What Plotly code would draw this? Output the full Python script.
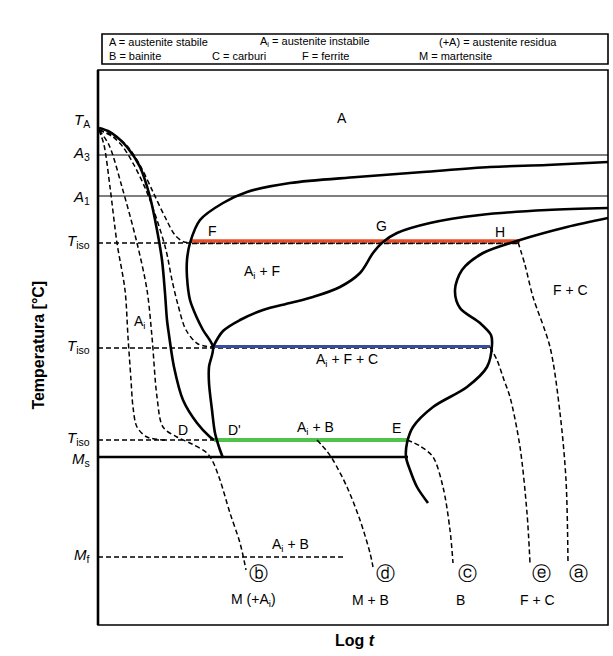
import plotly.graph_objects as go

# ---- data (x = log t, arbitrary units; T = temperature, arbitrary units) ----
T_A, T_A3, T_A1 = 497, 470, 429
T_ISO1, T_ISO2, T_ISO3 = 383, 278, 185
T_MS, T_MF = 168, 68
X_MAX, T_MAX = 510, 555

# thick transformation curves
fs_x = [510, 449, 392, 325, 259, 192, 149, 125, 102, 92, 89, 89, 92, 99, 105, 115, 111, 111, 114, 117, 121, 125]
fs_t = [463, 460, 458, 453, 448, 442, 433, 422, 405, 382, 365, 348, 325, 307, 295, 278, 258, 242, 215, 192, 178, 167]
g_x = [115, 125, 142, 165, 192, 215, 242, 262, 275, 285, 299, 332, 382, 449, 510]
g_t = [278, 294, 305, 315, 322, 328, 338, 352, 372, 383, 392, 402, 410, 415, 417]
h_x = [510, 469, 422, 385, 364, 357, 362, 382, 393, 394, 389, 369, 335, 315, 309, 308, 312, 319, 330]
h_t = [407, 398, 385, 372, 355, 335, 317, 302, 290, 280, 258, 238, 218, 198, 182, 168, 155, 138, 122]
d_x = [1, 10, 19, 29, 42, 52, 59, 64, 67, 69, 71, 76, 85, 99, 112, 116]
d_t = [497, 494, 488, 478, 458, 428, 395, 365, 332, 305, 290, 258, 225, 202, 188, 185]

# dashed cooling paths
iso3_x = [1, 6, 12, 19, 27, 30, 33, 35, 39, 49, 67]
iso3_t = [495, 480, 438, 382, 335, 288, 245, 218, 198, 188, 185]
b_x = [1, 11, 24, 39, 49, 54, 59, 65, 79, 94, 109, 115, 122, 132, 142, 148]
b_t = [495, 480, 438, 382, 335, 288, 228, 198, 188, 181, 172, 163, 145, 112, 82, 55]
e1_x = [1, 15, 25, 36, 48, 59, 68, 74, 80, 88, 100, 115]
e1_t = [495, 488, 478, 460, 435, 405, 375, 345, 320, 295, 281, 278]
e2_x = [392, 399, 406, 412, 422, 429, 432]
e2_t = [278, 265, 245, 228, 178, 112, 62]
a1_x = [1, 18, 30, 43, 55, 67, 77, 86, 94]
a1_t = [495, 488, 478, 458, 433, 408, 390, 383, 383]
a2_x = [420, 427, 435, 452, 462, 468, 470]
a2_t = [383, 360, 328, 278, 212, 145, 62]
c_x = [309, 322, 335, 345, 352, 355]
c_t = [185, 179, 168, 138, 95, 62]
dd_x = [219, 228, 235, 249, 262, 272, 275]
dd_t = [185, 175, 165, 138, 105, 72, 58]

# isothermal holds
red_x, blue_x, green_x = [94, 422], [115, 392], [116, 309]
ms_x, mf_x = [0, 310], [0, 247]

# region labels
reg_text = ["A", "A<sub>i</sub> + F", "F", "G", "H", "F + C", "A<sub>i</sub> + F + C", "A<sub>i</sub>",
            "D", "D'", "A<sub>i</sub> + B", "E", "A<sub>i</sub> + B",
            "M (+A<sub>i</sub>)", "M + B", "B", "F + C"]
reg_x = [244, 164, 114, 283, 402, 472, 249, 42, 85, 136, 217, 298, 192, 155, 272, 362, 439]
reg_t = [507, 353, 394, 399, 393, 335, 265, 303, 195, 195, 197, 197, 80, 25, 25, 25, 25]
circ_text = ["ⓑ", "ⓓ", "ⓒ", "ⓔ", "ⓐ"]
circ_x = [160, 287, 369, 443, 480]
circ_t = [52, 52, 52, 52, 52]

# axis level labels
lvl_text = ["<i>T</i><sub>A</sub>", "<i>A</i><sub>3</sub>", "<i>A</i><sub>1</sub>", "<i>T</i><sub>iso</sub>",
            "<i>T</i><sub>iso</sub>", "<i>T</i><sub>iso</sub>", "<i>M</i><sub>s</sub>", "<i>M</i><sub>f</sub>"]
lvl_t = [505, 472, 428, 384, 279, 187, 166, 70]

legend1 = ["A = austenite stabile", "A<sub>i</sub> = austenite instabile", "(+A) = austenite residua"]
legend1_x = [107, 258, 437]
legend2 = ["B = bainite", "C = carburi", "F = ferrite", "M = martensite"]
legend2_x = [107, 210, 300, 417]

FONT = "Liberation Sans, Arial, sans-serif"
fig = go.Figure()


def line(x, y, width=2.6, color="black", dash=None, shape="spline"):
    fig.add_trace(go.Scatter(x=x, y=y, mode="lines", hoverinfo="skip",
                             line=dict(color=color, width=width, dash=dash, shape=shape,
                                       smoothing=0.9 if shape == "spline" else None)))


DASH = "5px,3px"
# reference horizontal lines
line([0, X_MAX], [T_A3, T_A3], width=1.2, shape="linear")
line([0, X_MAX], [T_A1, T_A1], width=1.2, shape="linear")
line([0, red_x[1]], [T_ISO1 - 1, T_ISO1 - 1], width=1.4, dash=DASH, shape="linear")
line([0, blue_x[1]], [T_ISO2 - 1, T_ISO2 - 1], width=1.4, dash=DASH, shape="linear")
line([0, green_x[1]], [T_ISO3, T_ISO3], width=1.4, dash=DASH, shape="linear")
line(mf_x, [T_MF, T_MF], width=1.4, dash=DASH, shape="linear")

# coloured isothermal holds
line(red_x, [T_ISO1 + 1, T_ISO1 + 1], width=3.5, color="#e8502c", shape="linear")
line(red_x, [T_ISO1 - 1.5, T_ISO1 - 1.5], width=1.3, dash=DASH, shape="linear")
line(blue_x, [T_ISO2 + 0.5, T_ISO2 + 0.5], width=3, color="#3c4c9c", shape="linear")
line(green_x, [T_ISO3, T_ISO3], width=4, color="#4ec24a", shape="linear")

# dashed cooling curves
for xs, ys in [(iso3_x, iso3_t), (b_x, b_t), (e1_x, e1_t), (e2_x, e2_t), (a1_x, a1_t),
               (a2_x, a2_t), (c_x, c_t), (dd_x, dd_t)]:
    line(xs, ys, width=1.5, dash=DASH)

# thick curves
line(fs_x, fs_t)
line(g_x, g_t)
line(h_x, h_t)
line(d_x, d_t)
line(ms_x, [T_MS, T_MS], width=2.6, shape="linear")

ann = []
for t, x, y in zip(reg_text, reg_x, reg_t):
    ann.append(dict(x=x, y=y, text=t, showarrow=False, font=dict(size=14, family=FONT, color="black")))
for t, x, y in zip(circ_text, circ_x, circ_t):
    ann.append(dict(x=x, y=y, text=t, showarrow=False,
                    font=dict(size=19, family="DejaVu Sans, sans-serif", color="black")))
for t, y in zip(lvl_text, lvl_t):
    ann.append(dict(xref="paper", x=-0.012, y=y, text=t, xanchor="right", showarrow=False,
                    font=dict(size=15, family=FONT, color="black")))
for t, x in zip(legend1, legend1_x):
    ann.append(dict(xref="paper", yref="paper", x=(x - 98) / 510, y=(625 - 42) / 555, text=t,
                    xanchor="left", yanchor="middle", showarrow=False,
                    font=dict(size=11, family=FONT, color="black")))
for t, x in zip(legend2, legend2_x):
    ann.append(dict(xref="paper", yref="paper", x=(x - 98) / 510, y=(625 - 56) / 555, text=t,
                    xanchor="left", yanchor="middle", showarrow=False,
                    font=dict(size=11, family=FONT, color="black")))
ann.append(dict(x=257, yref="paper", y=-0.028, text="<b>Log <i>t</i></b>", showarrow=False,
                yanchor="middle", font=dict(size=16, family=FONT, color="black")))
ann.append(dict(xref="paper", x=-0.139, y=280, text="<b>Temperatura [°C]</b>", textangle=-90,
                showarrow=False, font=dict(size=16, family=FONT, color="black")))

shapes = [
    dict(type="rect", xref="paper", yref="paper", x0=0, x1=1, y0=0, y1=1,
         line=dict(color="black", width=1.6)),
    dict(type="line", xref="paper", yref="paper", x0=0, x1=0, y0=0, y1=1,
         line=dict(color="black", width=2.6)),
    dict(type="rect", xref="paper", yref="paper", x0=(102 - 98) / 510, x1=1.0,
         y0=(625 - 64) / 555, y1=(625 - 34) / 555, line=dict(color="black", width=1.6)),
]

fig.update_layout(
    width=613, height=656, margin=dict(l=98, r=5, t=70, b=31),
    paper_bgcolor="white", plot_bgcolor="white", showlegend=False, hovermode=False,
    xaxis=dict(range=[0, X_MAX], showgrid=False, zeroline=False, showticklabels=False, showline=False),
    yaxis=dict(range=[0, T_MAX], showgrid=False, zeroline=False, showticklabels=False, showline=False),
    annotations=ann, shapes=shapes,
)
fig.write_html("out.html")
